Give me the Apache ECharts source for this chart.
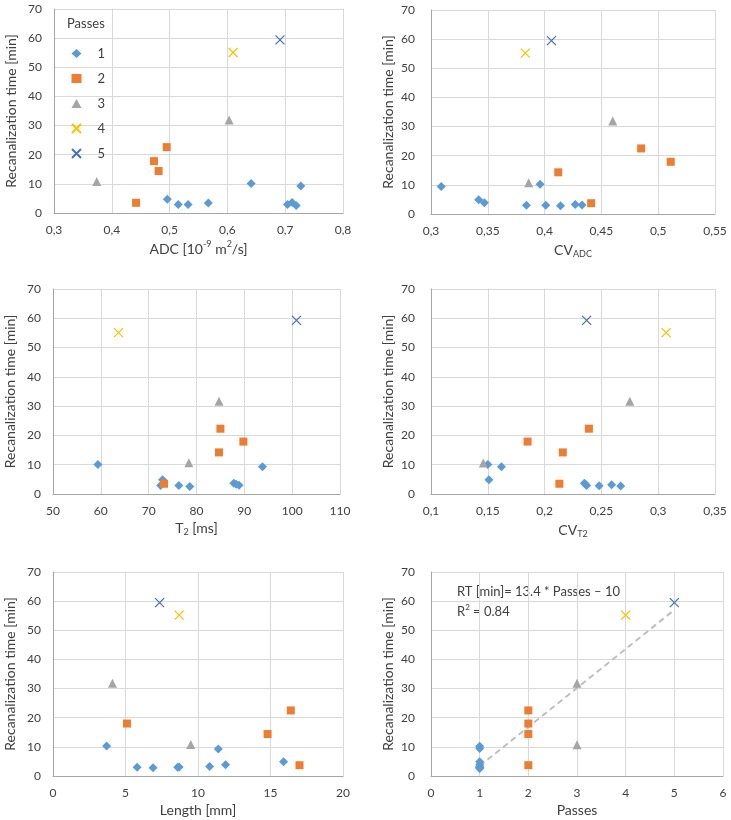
<!DOCTYPE html>
<html>
<head>
<meta charset="utf-8">
<script src="https://cdn.jsdelivr.net/npm/echarts@6/dist/echarts.min.js"></script>
<style>
html,body{margin:0;padding:0;background:#fff;}
#chart{width:731px;height:820px;}
</style>
</head>
<body>
<div id="chart"></div>
<script>
// ---------- DATA ----------
const passNames = ['1', '2', '3', '4', '5'];

// Panel A: ADC [10^-9 m2/s] vs recanalization time [min]
const adcPass1 = [[0.496,4.7],[0.515,2.9],[0.532,2.9],[0.567,3.4],[0.641,10.1],[0.704,2.9],[0.712,3.6],[0.719,2.6],[0.727,9.3]];
const adcPass2 = [[0.442,3.5],[0.473,17.8],[0.481,14.4],[0.495,22.6]];
const adcPass3 = [[0.374,10.8],[0.603,31.9]];
const adcPass4 = [[0.610,55.1]];
const adcPass5 = [[0.691,59.4]];

// Panel B: CV_ADC
const cvAdcPass1 = [[0.309,9.4],[0.342,4.9],[0.347,3.9],[0.384,3.0],[0.396,10.2],[0.401,3.0],[0.414,2.8],[0.427,3.3],[0.433,3.1]];
const cvAdcPass2 = [[0.412,14.3],[0.441,3.7],[0.485,22.5],[0.511,17.9]];
const cvAdcPass3 = [[0.386,10.7],[0.460,31.9]];
const cvAdcPass4 = [[0.383,55.2]];
const cvAdcPass5 = [[0.406,59.5]];

// Panel C: T2 [ms]
const t2Pass1 = [[59.4,10.1],[72.5,2.9],[72.9,4.9],[76.3,2.9],[78.6,2.6],[87.8,3.7],[88.3,3.3],[88.9,3.0],[93.8,9.3]];
const t2Pass2 = [[73.2,3.5],[84.7,14.2],[85.0,22.3],[89.8,17.9]];
const t2Pass3 = [[78.4,10.7],[84.7,31.7]];
const t2Pass4 = [[63.7,55.1]];
const t2Pass5 = [[100.9,59.3]];

// Panel D: CV_T2
const cvT2Pass1 = [[0.150,10.1],[0.151,4.9],[0.162,9.3],[0.235,3.7],[0.236,3.3],[0.237,2.9],[0.248,2.8],[0.259,3.2],[0.267,2.7]];
const cvT2Pass2 = [[0.213,3.5],[0.216,14.2],[0.185,17.9],[0.239,22.3]];
const cvT2Pass3 = [[0.146,10.6],[0.275,31.7]];
const cvT2Pass4 = [[0.307,55.1]];
const cvT2Pass5 = [[0.237,59.3]];

// Panel E: Length [mm]
const lenPass1 = [[3.7,10.3],[5.8,3.0],[6.9,2.8],[8.6,3.0],[8.7,3.1],[10.8,3.3],[11.4,9.3],[11.9,3.9],[15.9,4.9]];
const lenPass2 = [[5.1,18.0],[14.8,14.4],[16.4,22.5],[17.0,3.7]];
const lenPass3 = [[4.1,31.8],[9.5,10.8]];
const lenPass4 = [[8.7,55.2]];
const lenPass5 = [[7.35,59.5]];

// Panel F: Passes
const passPass1 = [[1,10.2],[1,9.4],[1,4.9],[1,3.9],[1,3.3],[1,3.0],[1,3.0],[1,2.8],[1,2.6]];
const passPass2 = [[2,22.5],[2,18.0],[2,14.4],[2,3.7]];
const passPass3 = [[3,31.8],[3,10.7]];
const passPass4 = [[4,55.2]];
const passPass5 = [[5,59.5]];
const trendLine = [[1,3.4],[5,57.0]];
const trendText = 'RT [min]= 13.4 * Passes \u2013 10';
const r2Text = '0.84';

// Axis ranges / ticks
const xRanges = [
  {min:0.3, max:0.8, interval:0.1},
  {min:0.3, max:0.55, interval:0.05},
  {min:50, max:110, interval:10},
  {min:0.1, max:0.35, interval:0.05},
  {min:0, max:20, interval:5},
  {min:0, max:6, interval:1}
];
const yRange = {min:0, max:70, interval:10};
const yTitle = 'Recanalization time [min]';

// ---------- STYLE ----------
const FONT = 'Lato';
const TXT = '#404040';
const colors = ['#5B9BD5', '#ED7D31', '#A5A5A5', '#FFC000', '#4472C4'];
const crossPath = 'path://M0,0L10,10M10,0L0,10';
const symbols = ['diamond', 'rect', 'triangle', crossPath, crossPath];
const symbolSizes = [9, 8, 9, 9, 9];

const grids = [
  {left:54, top:9, width:289, height:204},
  {left:431, top:10, width:284, height:204},
  {left:53, top:289, width:287, height:205},
  {left:431, top:289, width:284, height:205},
  {left:53, top:572, width:290, height:204},
  {left:431, top:572, width:292, height:204}
];
const yLabelMargin = [12, 16, 12, 16, 12, 16];

const rich = {
  n: {fontSize:14, fontFamily:FONT, color:TXT, lineHeight:18},
  sup: {fontSize:9, fontFamily:FONT, color:TXT, lineHeight:9, verticalAlign:'top'},
  sub: {fontSize:9, fontFamily:FONT, color:TXT, lineHeight:9, verticalAlign:'bottom'}
};
const xTitles = [
  '{n|ADC [10}{sup|-9}{n| m}{sup|2}{n|/s]}',
  '{n|CV}{sub|ADC}',
  '{n|T}{sub|2}{n| [ms]}',
  '{n|CV}{sub|T2}',
  '{n|Length [mm]}',
  '{n|Passes}'
];
const xNameGap = [27, 27, 25, 27, 25, 25];

const panelData = [
  [adcPass1, adcPass2, adcPass3, adcPass4, adcPass5],
  [cvAdcPass1, cvAdcPass2, cvAdcPass3, cvAdcPass4, cvAdcPass5],
  [t2Pass1, t2Pass2, t2Pass3, t2Pass4, t2Pass5],
  [cvT2Pass1, cvT2Pass2, cvT2Pass3, cvT2Pass4, cvT2Pass5],
  [lenPass1, lenPass2, lenPass3, lenPass4, lenPass5],
  [passPass1, passPass2, passPass3, passPass4, passPass5]
];

const fmt = v => String(+v.toFixed(4)).replace('.', ',');

const xAxis = [], yAxis = [], series = [];
grids.forEach((g, i) => {
  xAxis.push({
    type:'value', gridIndex:i, min:xRanges[i].min, max:xRanges[i].max, interval:xRanges[i].interval,
    axisLine:{show:true, onZero:false, lineStyle:{color:'#A6A6A6', width:1}},
    axisTick:{show:false},
    axisLabel:{color:TXT, fontFamily:FONT, fontSize:12, margin:11, formatter:fmt},
    splitLine:{show:true, lineStyle:{color:'#D9D9D9', width:1}},
    name:xTitles[i], nameLocation:'middle', nameGap:xNameGap[i],
    nameTextStyle:{rich:rich}
  });
  yAxis.push({
    type:'value', gridIndex:i, min:yRange.min, max:yRange.max, interval:yRange.interval,
    axisLine:{show:true, lineStyle:{color:'#A6A6A6', width:1}},
    axisTick:{show:false},
    axisLabel:{color:TXT, fontFamily:FONT, fontSize:12, margin:yLabelMargin[i]},
    splitLine:{show:true, lineStyle:{color:'#D9D9D9', width:1}},
    name:yTitle, nameLocation:'middle', nameGap:36,
    nameTextStyle:{color:TXT, fontFamily:FONT, fontSize:14}
  });
  panelData[i].forEach((d, k) => {
    series.push({
      type:'scatter', name:passNames[k], xAxisIndex:i, yAxisIndex:i,
      data:d, symbol:symbols[k], symbolSize:symbolSizes[k],
      itemStyle:(k >= 3)
        ? {color:colors[k], borderColor:colors[k], borderWidth:1.3, opacity:1}
        : {color:colors[k], opacity:1},
      emphasis:{disabled:true}, z:3
    });
  });
});
series.push({
  type:'line', name:'trend', xAxisIndex:5, yAxisIndex:5, data:trendLine,
  symbol:'none', lineStyle:{color:'#BFBFBF', width:2, type:[6,4]}, z:2, silent:true
});

const option = {
  animation:false,
  backgroundColor:'#ffffff',
  grid:grids.map(g => Object.assign({containLabel:false}, g)),
  xAxis:xAxis, yAxis:yAxis, series:series,
  legend:{
    data:passNames, orient:'vertical', left:66, top:42,
    itemWidth:10, itemHeight:9, itemGap:12, symbolKeepAspect:true,
    textStyle:{color:TXT, fontFamily:FONT, fontSize:13, padding:[0,0,0,11]},
    selectedMode:false
  },
  graphic:[
    {type:'text', left:67, top:17, style:{text:'Passes', fill:TXT, font:'13px ' + FONT}},
    {type:'text', left:457, top:585, style:{text:trendText, fill:TXT, font:'13px ' + FONT}},
    {type:'text', left:457, top:603, style:{
      text:'{n|R}{s|2}{n| = ' + r2Text + '}',
      rich:{n:{fontSize:13, fontFamily:FONT, fill:TXT, lineHeight:17}, s:{fontSize:8, fontFamily:FONT, fill:TXT, lineHeight:8, verticalAlign:'top'}}
    }}
  ]
};
const chart = echarts.init(document.getElementById('chart'), null, {renderer:'canvas'});
chart.setOption(option);
</script>
</body>
</html>
